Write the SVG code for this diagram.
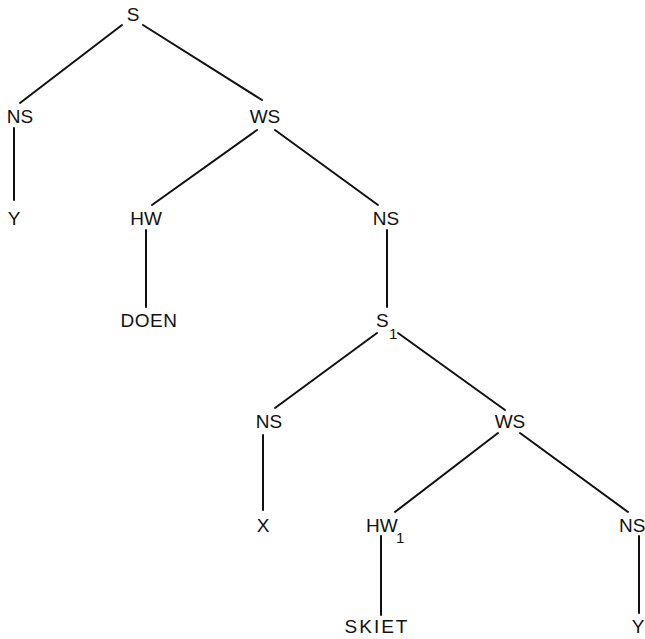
<svg xmlns="http://www.w3.org/2000/svg" width="645" height="639" viewBox="0 0 645 639">
<style>
text{font-family:"Liberation Sans",Arial,sans-serif;font-size:19px;fill:#111}
.m{text-anchor:middle}
.sub{font-size:15px}
line{stroke:#111;stroke-width:2;stroke-linecap:round}
</style>
<rect width="645" height="639" fill="#fff"/>
<g id="connectors">
<line x1="122" y1="25" x2="20" y2="103"/>
<line x1="143" y1="25" x2="262" y2="100"/>
<line x1="14" y1="128" x2="14" y2="200"/>
<line x1="257" y1="130" x2="152" y2="205"/>
<line x1="275" y1="130" x2="378" y2="205"/>
<line x1="146" y1="230" x2="146" y2="307"/>
<line x1="387" y1="230" x2="387" y2="307"/>
<line x1="377" y1="333" x2="275" y2="408"/>
<line x1="398" y1="333" x2="505" y2="410"/>
<line x1="263" y1="435" x2="263" y2="510"/>
<line x1="498" y1="433" x2="395" y2="512"/>
<line x1="520" y1="433" x2="628" y2="512"/>
<line x1="381" y1="536" x2="381" y2="615"/>
<line x1="639" y1="536" x2="639" y2="613"/>
</g>
<g id="S"><text class="m" x="133" y="21">S</text></g>
<g id="NS1"><text class="m" x="20" y="123">NS</text></g>
<g id="WS1"><text class="m" x="265" y="123">WS</text></g>
<g id="Y1"><text class="m" x="14" y="225">Y</text></g>
<g id="HW"><text class="m" x="146" y="225">HW</text></g>
<g id="NS2"><text class="m" x="386" y="225">NS</text></g>
<g id="DOEN"><text class="m" x="149" y="327" letter-spacing="0.5">DOEN</text></g>
<g id="S1"><text x="376" y="327">S</text><text class="sub" x="389" y="339">1</text></g>
<g id="NS3"><text class="m" x="269" y="428">NS</text></g>
<g id="WS2"><text class="m" x="510" y="428">WS</text></g>
<g id="X"><text class="m" x="263" y="532">X</text></g>
<g id="HW1"><text x="366" y="532">HW</text><text class="sub" x="396" y="543">1</text></g>
<g id="NS4"><text x="619" y="532">NS</text></g>
<g id="SKIET"><text class="m" x="377" y="633" letter-spacing="2">SKIET</text></g>
<g id="Y2"><text class="m" x="638" y="633">Y</text></g>
</svg>
